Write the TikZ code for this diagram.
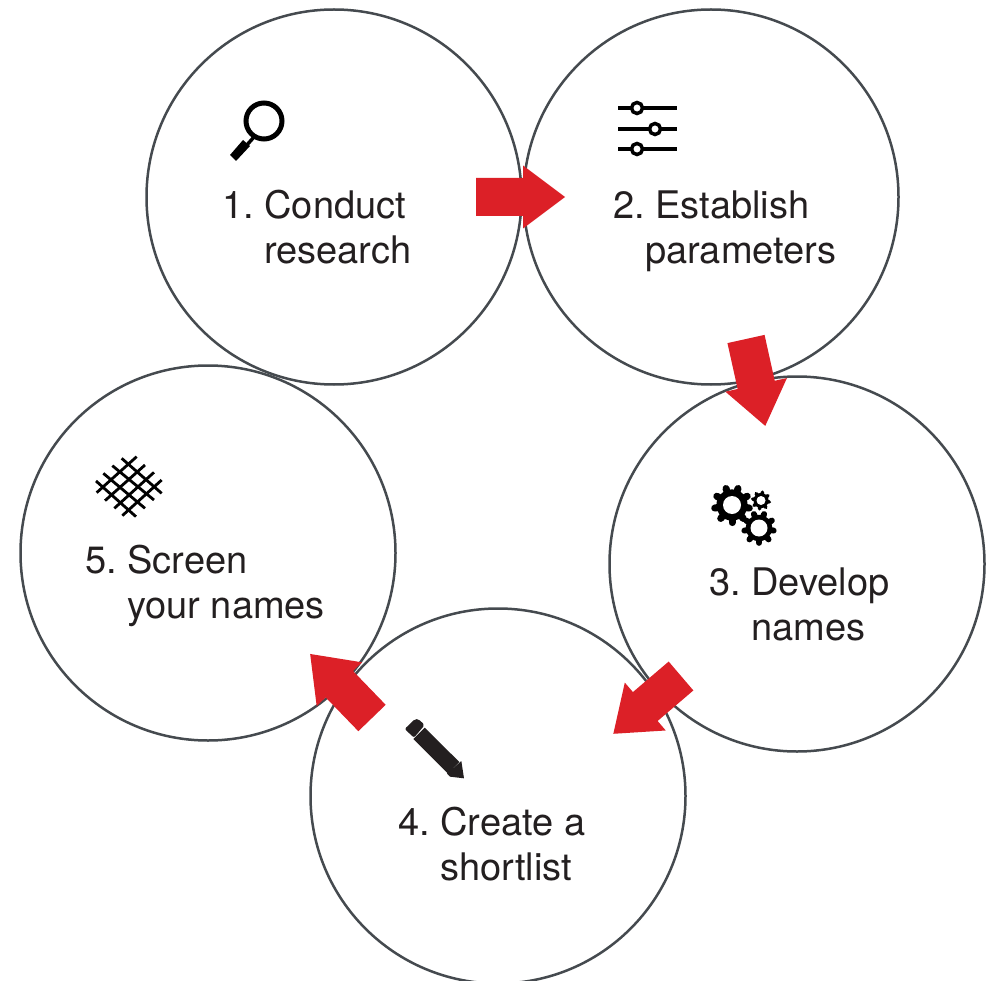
\documentclass[tikz,border=0pt]{standalone}
\usepackage{fontspec}
\setmainfont{TeX Gyre Heros}
\definecolor{ringcol}{HTML}{454A4F}
\definecolor{arrowred}{HTML}{DC2027}
\definecolor{inkcol}{HTML}{231F20}
\tikzset{
  ring/.style={circle,draw=ringcol,line width=2.5pt,minimum size=375pt,inner sep=0pt},
  steplabel/.style={anchor=base west,align=left,inner sep=0pt,text=inkcol,font=\fontsize{38}{45}\selectfont\frenchspacing},
  blockarrow/.style={fill=arrowred,draw=none},
}
\newcommand{\blockarrowat}[2]{%
  \fill[blockarrow,shift={(#1)},rotate=#2] (0,-19) -- (47,-19) -- (47,-31.5) -- (89,0) -- (47,31.5) -- (47,19) -- (0,19) -- cycle;}
\newcommand{\gearat}[5]{% x,y, outer radius, hole radius, teeth
  \begin{scope}[shift={(#1,#2)}]
    \fill[black] (0,0) circle[radius=#3*0.8];
    \foreach \k in {1,...,#5}{
      \draw[black,line width=#3*0.36pt,line cap=round] (\k*360/#5+10:#3*0.7) -- (\k*360/#5+10:#3*0.9);
    }
    \fill[white] (0,0) circle[radius=#4];
  \end{scope}}
\begin{document}
\begin{tikzpicture}[x=1pt,y=-1pt]
\useasboundingbox (0,0) rectangle (992,981);
\fill[white] (0,0) rectangle (992,981);
% circles
\node[ring] (c1) at (334,197) {};
\node[ring] (c2) at (711,197) {};
\node[ring] (c3) at (797,564) {};
\node[ring] (c4) at (498,796) {};
\node[ring] (c5) at (208,553) {};
% labels
\node[steplabel] (t1) at (222,264) {1. Conduct\\\hspace*{42pt}research};
\node[steplabel] (t2) at (613,264) {2. Establish\\\hspace*{32pt}parameters};
\node[steplabel] (t3) at (709,640) {3. Develop\\\hspace*{42pt}names};
\node[steplabel] (t4) at (398,880) {4. Create a\\\hspace*{42pt}shortlist};
\node[steplabel] (t5) at (85,618) {5. Screen\\\hspace*{42pt}your names};
% arrows
\blockarrowat{476,197}{0}
\blockarrowat{746,339}{-77.5}
\blockarrowat{681,676}{-139.5}
\blockarrowat{372,718}{134}
% magnifier
\draw[black,line width=5pt] (264,121) circle[radius=18];
\draw[black,line width=3.5pt] (254,137) -- (246,146);
\fill[black] (243,140) -- (250,146) -- (236,161) -- (230,155) -- cycle;
% sliders
\foreach \yy/\xx in {108/637,129/655,149/637}{
  \draw[black,line width=3.5pt] (618,\yy) -- (677,\yy);
  \draw[black,line width=3.5pt,fill=white] (\xx,\yy) circle[radius=5.5];
}
% gears
\gearat{732}{505}{19.5}{9}{9}
\gearat{761}{500.5}{9.5}{4.5}{8}
\gearat{759}{528}{16.5}{8.5}{9}
% pencil
\begin{scope}[shift={(390,705)},x=0.3333pt,y=-0.3333pt]
  \fill[inkcol,rounded corners=2pt] (44,72) -- (75,42) -- (85,42) -- (104,60) -- (72,98) -- cycle;
  \fill[inkcol] (104,68) -- (70,102) -- (174,206) -- (208,171) -- cycle;
  \fill[inkcol] (214,168) -- (222,220) -- (180,215) -- (171,206) -- cycle;
\end{scope}
% grid
\begin{scope}[shift={(80,445)},x=0.3333pt,y=-0.3333pt]
  \foreach \a/\b/\c/\d in {170/35/50/143,195/60/75/167,222/82/103/190,245/105/127/212,125/40/245/145,97/62/222/165,70/85/195/190,48/108/168/215}{
    \draw[black,line width=2.8pt] (\a,\b) -- (\c,\d);
  }
\end{scope}
\end{tikzpicture}
\end{document}
